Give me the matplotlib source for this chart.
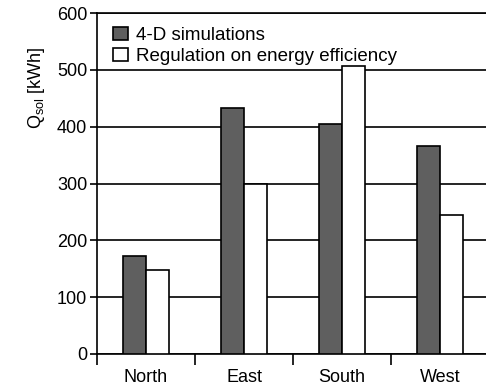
import numpy as np
import matplotlib.pyplot as plt

plt.rcParams['font.family'] = ['Liberation Sans', 'DejaVu Sans']

# data
directions = ["North", "East", "South", "West"]
sim_4d = [173, 433, 405, 366]
regulation = [148, 300, 507, 244]
y_ticks = [0, 100, 200, 300, 400, 500, 600]

fig = plt.figure(figsize=(4.86, 3.89), dpi=100)
# axes run a bit past the right edge, like the cropped original
ax = fig.add_axes([97 / 486, 35 / 389, 392 / 486, 341 / 389])

x = np.arange(len(directions)) + 0.5
w = 0.235
ax.bar(x - w / 2, sim_4d, w, color="#5f5f5f", edgecolor="black", linewidth=1.2,
       label="4-D simulations", zorder=3)
ax.bar(x + w / 2, regulation, w, color="white", edgecolor="black", linewidth=1.2,
       label="Regulation on energy efficiency", zorder=3)

ax.set_xlim(0, 4)
ax.set_ylim(0, 600)
ax.set_yticks(y_ticks)
ax.yaxis.grid(True, color="black", linewidth=1.2, zorder=0)
ax.set_axisbelow(True)

# category labels at centers, tick marks at the boundaries
ax.set_xticks(x)
ax.set_xticklabels(directions)
ax.set_xticks(np.arange(0, 5), minor=True)
ax.tick_params(axis="x", which="major", length=0, pad=11, labelsize=13)
ax.tick_params(axis="x", which="minor", length=8, width=1.2, direction="out")
ax.tick_params(axis="y", length=5, width=1.2, labelsize=13, pad=2)

ax.spines["right"].set_visible(False)
for s in ["left", "bottom", "top"]:
    ax.spines[s].set_linewidth(1.2)

ax.set_ylabel(r"Q$_\mathregular{sol}$ [kWh]", fontsize=13)
ax.yaxis.set_label_coords(-0.127, 0.78)

ax.legend(loc="upper left", frameon=False, fontsize=13.5, handlelength=0.8,
          handleheight=0.7, handletextpad=0.45, labelspacing=0.2,
          borderaxespad=0.0, borderpad=0.0, bbox_to_anchor=(0.04, 0.96))

fig.savefig("out.png", dpi=100)
